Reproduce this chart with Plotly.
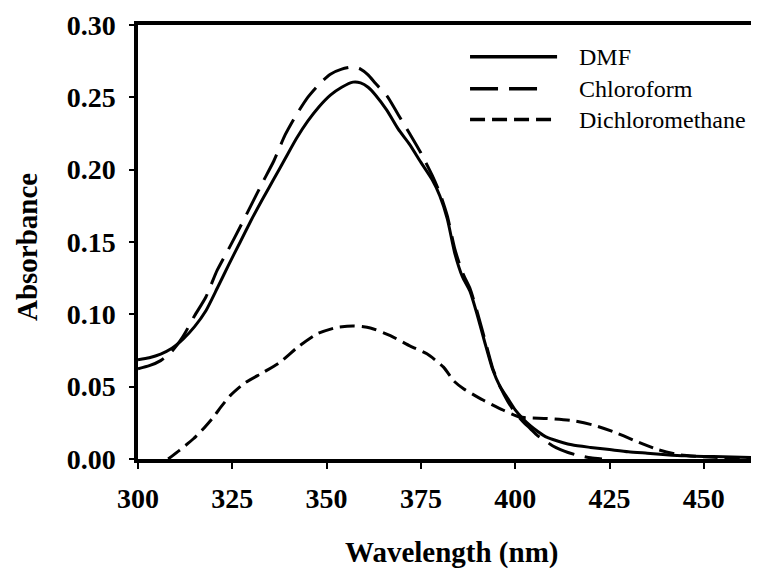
import plotly.graph_objects as go

# ---- data ----
dmf_nm = [300, 303, 306, 309, 312, 315, 318, 321, 324, 327, 330, 333, 336, 339, 342, 345, 348, 351, 354, 357,
          359, 361, 363, 366, 369, 372, 375, 378, 380, 382, 384, 386, 388, 390, 392, 394, 396, 398, 400, 402,
          404, 406, 408, 410, 415, 420, 425, 430, 435, 440, 445, 450, 455, 460, 465]
dmf_abs = [0.0686, 0.0700, 0.0725, 0.0765, 0.0830, 0.0915, 0.1025, 0.1180, 0.1340, 0.1495, 0.1650, 0.1795,
           0.1935, 0.2075, 0.2215, 0.2335, 0.2435, 0.2515, 0.2570, 0.2605, 0.2600, 0.2570, 0.2515, 0.2410,
           0.2280, 0.2175, 0.2050, 0.1930, 0.1820, 0.1660, 0.1420, 0.1260, 0.1160, 0.0990, 0.0800, 0.0620,
           0.0500, 0.0420, 0.0340, 0.0280, 0.0230, 0.0190, 0.0155, 0.0135, 0.0098, 0.0080, 0.0065, 0.0050,
           0.0040, 0.0030, 0.0022, 0.0018, 0.0015, 0.0012, 0.0009]

chl_nm = [300, 303, 306, 309, 312, 315, 318, 321, 324, 327, 330, 333, 336, 339, 342, 345, 348, 351, 354, 357,
          359, 361, 363, 366, 369, 372, 375, 378, 380, 382, 384, 386, 388, 390, 392, 394, 396, 398, 400, 402,
          404, 406, 408, 410, 412, 414, 416, 418, 420, 423]
chl_abs = [0.0624, 0.0645, 0.0680, 0.0745, 0.0850, 0.0990, 0.1120, 0.1305, 0.1450, 0.1600, 0.1755, 0.1910,
           0.2060, 0.2240, 0.2380, 0.2500, 0.2590, 0.2660, 0.2695, 0.2710, 0.2695, 0.2655, 0.2595, 0.2510,
           0.2380, 0.2250, 0.2115, 0.1960, 0.1840, 0.1680, 0.1450, 0.1290, 0.1180, 0.1010, 0.0820, 0.0630,
           0.0500, 0.0400, 0.0320, 0.0260, 0.0210, 0.0160, 0.0125, 0.0090, 0.0065, 0.0045, 0.0030, 0.0018,
           0.0008, 0.0000]

dcm_nm = [308, 311, 314.7, 317, 320, 322, 324.5, 328, 333.3, 337.7, 342.2, 347.5, 352.8, 357.2, 361.6, 366.9,
          372.2, 376.6, 381, 383.7, 386.3, 391.6, 396.9, 401.3, 408.4, 415.5, 420.8, 426.1, 431.4, 437.6,
          443.8, 452.6, 464.1]
dcm_abs = [0.0000, 0.0060, 0.0140, 0.0200, 0.0290, 0.0360, 0.0440, 0.0520, 0.0600, 0.0670, 0.0770, 0.0865,
           0.0910, 0.0920, 0.0906, 0.0853, 0.0780, 0.0727, 0.0635, 0.0540, 0.0486, 0.0406, 0.0337, 0.0290,
           0.0280, 0.0264, 0.0234, 0.0188, 0.0130, 0.0067, 0.0028, 0.0012, 0.0005]

series_names = ["DMF", "Chloroform", "Dichloromethane"]
series_dash = ["solid", "28px,11px", "15px,7px"]

x_ticks = [300, 325, 350, 375, 400, 425, 450]
y_ticks = [0.00, 0.05, 0.10, 0.15, 0.20, 0.25, 0.30]

SERIF = "Liberation Serif, Times New Roman, serif"

fig = go.Figure()
for name, xs, ys, dash in zip(series_names, [dmf_nm, chl_nm, dcm_nm], [dmf_abs, chl_abs, dcm_abs], series_dash):
    fig.add_trace(go.Scatter(x=xs, y=ys, mode="lines", name=name,
                             line=dict(color="black", width=3, dash=dash, shape="spline", smoothing=0.6),
                             showlegend=False))

# the page body adds an 8px offset, so the figure is 8px smaller and margins compensate
fig.update_layout(
    width=751, height=560,
    margin=dict(l=130, r=2, t=15, b=109),
    paper_bgcolor="white", plot_bgcolor="white",
    font=dict(family=SERIF, color="black"),
)
fig.update_xaxes(range=[300, 464.1], tickvals=x_ticks, ticktext=[str(v) for v in x_ticks],
                 showgrid=False, zeroline=False, showline=True, linecolor="black", linewidth=3.5,
                 mirror=True, ticks="outside", ticklen=6, tickwidth=2, tickcolor="black",
                 tickfont=dict(family=SERIF, size=28, color="black", weight="bold"),
                 ticklabelstandoff=6, ticklabeloverflow="allow")
fig.update_yaxes(range=[0, 0.30], tickvals=y_ticks, ticktext=[f"{v:.2f}" for v in y_ticks],
                 showgrid=False, zeroline=False, showline=True, linecolor="black", linewidth=3.5,
                 ticks="outside", ticklen=5, tickwidth=2, tickcolor="black",
                 tickfont=dict(family=SERIF, size=28, color="black", weight="bold"),
                 ticklabelstandoff=8, ticklabeloverflow="allow")

# thin right border
fig.add_shape(type="line", xref="paper", yref="paper", x0=1, x1=1, y0=0, y1=1,
              line=dict(color="black", width=1.5))

# axis titles
fig.add_annotation(text="<b>Wavelength (nm)</b>", xref="paper", yref="paper", x=0.507, y=0,
                   xanchor="center", yanchor="middle", yshift=-93, showarrow=False,
                   font=dict(family=SERIF, size=29, color="black"))
fig.add_annotation(text="<b>Absorbance</b>", xref="paper", yref="paper", x=0, y=0.4885,
                   xanchor="center", yanchor="middle", xshift=-111, textangle=-90, showarrow=False,
                   font=dict(family=SERIF, size=29, color="black"))

# manual legend (long line samples like the reference)
leg_y = [0.9266, 0.8532, 0.7821]
leg_x1 = [0.677, 0.654, 0.677]
for name, dash, yy, x1 in zip(series_names, series_dash, leg_y, leg_x1):
    fig.add_shape(type="line", xref="paper", yref="paper", x0=0.5364, x1=x1, y0=yy, y1=yy,
                  line=dict(color="black", width=3.5, dash=dash))
    fig.add_annotation(text=name, xref="paper", yref="paper", x=0.7092, y=yy,
                       xanchor="left", yanchor="middle", showarrow=False,
                       font=dict(family=SERIF, size=24, color="black"))

fig.write_html("out.html")
